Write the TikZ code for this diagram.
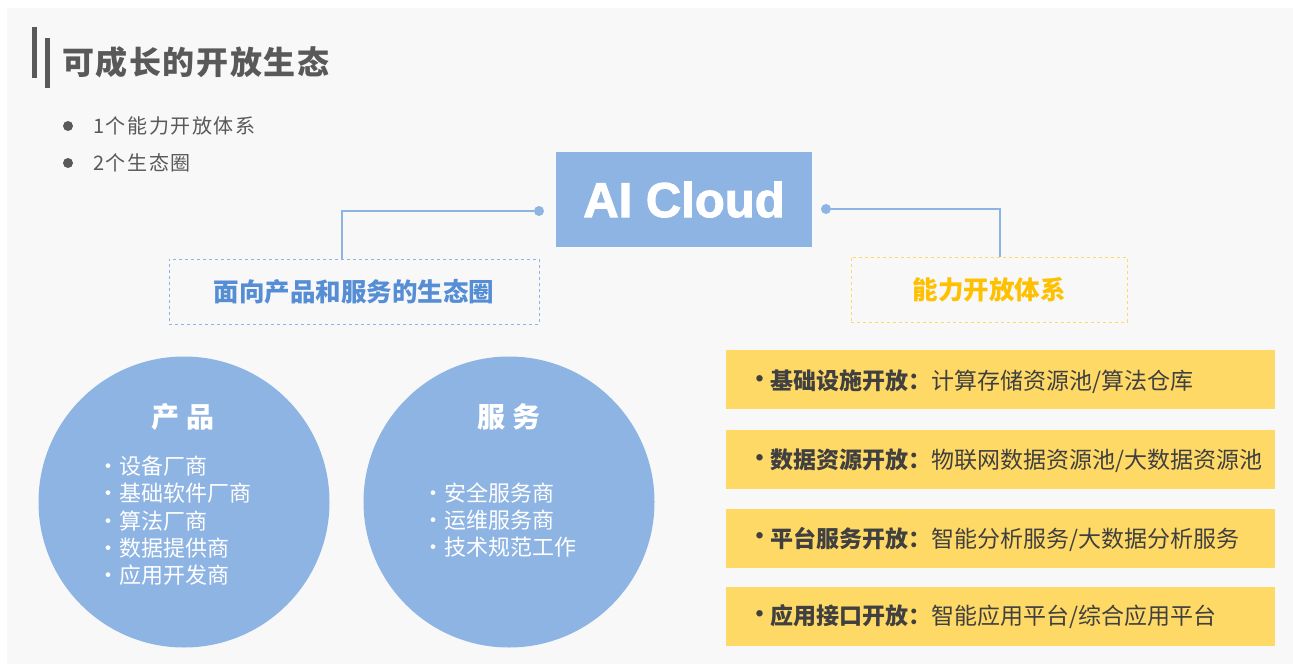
\documentclass[tikz,border=0pt]{standalone}
\usepackage{fontspec}
\setmainfont{Noto Sans CJK SC}
\newfontfamily\latinfont[BoldFeatures={FakeBold=2}]{Liberation Sans}
\newfontfamily\spacedfont[LetterSpace=8]{Noto Sans CJK SC}
\newfontfamily\titlefont[LetterSpace=5]{Noto Sans CJK SC}
\definecolor{bgc}{HTML}{F8F8F8}
\definecolor{blueA}{HTML}{8EB4E3}
\definecolor{blueT}{HTML}{558ED5}
\definecolor{yelF}{HTML}{FFD966}
\definecolor{goldT}{HTML}{FFC000}
\definecolor{darkT}{HTML}{404040}
\definecolor{greyT}{HTML}{595959}
\tikzset{
  conn/.style={draw=blueA, line width=1.2pt},
  cdot/.style={circle, fill=blueA, minimum size=10pt, inner sep=0pt},
  dashbox/.style={draw, dashed, line width=0.9pt, minimum width=#1, minimum height=65pt, inner sep=0pt},
  bigcircle/.style={circle, fill=blueA, minimum size=291pt, inner sep=0pt},
  ctitle/.style={text=white, font=\fontsize{28}{28}\selectfont\bfseries, inner sep=0pt},
  citem/.style={text=white, font=\fontsize{22}{22}\selectfont, anchor=west, inner sep=0pt},
  ybar/.style={fill=yelF, minimum width=549pt, minimum height=59pt, inner sep=0pt, anchor=north west},
  ybul/.style={text=darkT, font=\fontsize{23}{23}\selectfont\bfseries, inner sep=0pt},
  ytext/.style={text=darkT, font=\fontsize{23}{23}\selectfont, anchor=west, inner sep=0pt},
  listdot/.style={circle, fill=greyT, minimum size=10pt, inner sep=0pt},
  listtext/.style={text=greyT, font=\fontsize{20}{20}\spacedfont, anchor=west, inner sep=0pt},
}
\begin{document}
\begin{tikzpicture}[x=1pt,y=-1pt]
\useasboundingbox (0,0) rectangle (1293,664);
\fill[white] (0,0) rectangle (1293,664);
\fill[bgc] (7,8) rectangle (1293,664);
% title
\fill[greyT] (32,27) rectangle (37,78);
\fill[greyT] (45,38) rectangle (50,88);
\node[anchor=west, inner sep=0pt, text=greyT, font=\fontsize{32}{32}\titlefont\bfseries] (title) at (62,62) {可成长的开放生态};
% list
\node[listdot] (ld1) at (68,126) {};
\node[listtext] (lt1) at (93,126) {1个能力开放体系};
\node[listdot] (ld2) at (68,163) {};
\node[listtext] (lt2) at (93,163) {2个生态圈};
% AI Cloud
\node[fill=blueA, minimum width=256pt, minimum height=95pt, inner sep=0pt, text=white,
      font=\fontsize{49}{49}\latinfont\bfseries] (ai) at (684,199.5) {AI Cloud};
\node[cdot] (dotL) at (539,211) {};
\node[cdot] (dotR) at (826,209) {};
% dashed boxes
\node[dashbox=370pt, draw=blueA, text=blueT, font=\fontsize{25.5}{25.5}\selectfont\bfseries] (boxL) at (354,291.5) {面向产品和服务的生态圈};
\node[dashbox=276pt, draw=yelF, text=goldT, font=\fontsize{25.5}{25.5}\selectfont\bfseries] (boxR) at (989,289.5) {能力开放体系};
\coordinate (kL) at (342,211);
\coordinate (kR) at (1000,209);
\draw[conn] (dotL) -- (kL) -- (kL |- boxL.north);
\draw[conn] (dotR) -- (kR) -- (kR |- boxR.north);
% circles
\node[bigcircle] (cP) at (184,502) {};
\node[bigcircle] (cS) at (509,502) {};
\node[ctitle] (tP) at (183,417) {产\hspace{8pt}品};
\node[ctitle] (tS) at (509,417) {服\hspace{8pt}务};
\foreach \t [count=\i] in {设备厂商,基础软件厂商,算法厂商,数据提供商,应用开发商}{
  \node[citem] (p\i) at (97,{466+(\i-1)*27.3}) {·\t};
}
\foreach \t [count=\i] in {安全服务商,运维服务商,技术规范工作}{
  \node[citem] (s\i) at (422,{493+(\i-1)*27.2}) {·\t};
}
% yellow bars
\node[ybar] (bar1) at (726,350) {};
\node[ybar] (bar2) at (726,430) {};
\node[ybar] (bar3) at (726,509) {};
\node[ybar] (bar4) at (726,587) {};
\node[ybul] (bu1) at (760,382) {•};
\node[ybul] (bu2) at (760,461) {•};
\node[ybul] (bu3) at (760,539) {•};
\node[ybul] (bu4) at (760,617) {•};
\node[ytext] (bt1) at (770,382) {\textbf{基础设施开放：}计算存储资源池/算法仓库};
\node[ytext] (bt2) at (770,461) {\textbf{数据资源开放：}物联网数据资源池/大数据资源池};
\node[ytext] (bt3) at (770,539) {\textbf{平台服务开放：}智能分析服务/大数据分析服务};
\node[ytext] (bt4) at (770,617) {\textbf{应用接口开放：}智能应用平台/综合应用平台};
\end{tikzpicture}
\end{document}
